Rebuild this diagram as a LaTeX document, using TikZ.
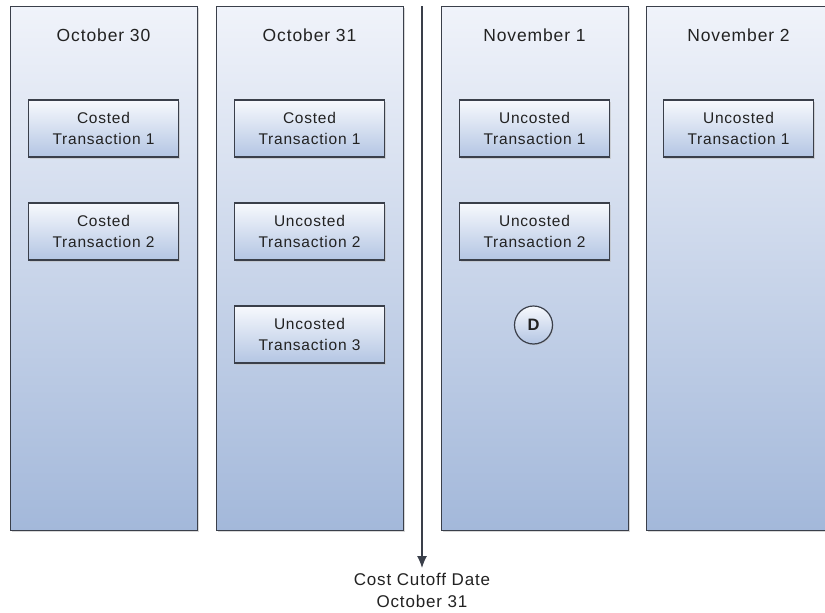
\documentclass[tikz,border=0pt]{standalone}
\usepackage{fontspec}
\setmainfont{Liberation Sans}[LetterSpace=5]
\usetikzlibrary{shadows,arrows.meta}
\definecolor{txt}{HTML}{222222}
\definecolor{coltop}{HTML}{F0F3FA}
\definecolor{colbot}{HTML}{A3B8DA}
\definecolor{boxtop}{HTML}{F7F9FD}
\definecolor{boxbot}{HTML}{B3C5E3}
\definecolor{edge}{HTML}{3A3F4A}
\tikzset{
  daycol/.style={draw=edge, line width=1.2pt, top color=coltop, bottom color=colbot,
     minimum width=187pt, minimum height=524pt, inner sep=0pt, anchor=north west,
     drop shadow={shadow xshift=1.5pt, shadow yshift=-1.5pt, fill=black!25, opacity=0.6}},
  txbox/.style={draw=edge, line width=1.2pt, top color=boxtop, bottom color=boxbot,
     minimum width=150pt, minimum height=57pt, align=center, inner sep=0pt,
     font=\fontsize{15.5pt}{20.7pt}\selectfont, text=txt,
     drop shadow={shadow xshift=1.5pt, shadow yshift=-1.5pt, fill=black!25, opacity=0.6}},
  title/.style={font=\fontsize{17.5pt}{20pt}\selectfont, text=txt, anchor=base, inner sep=0pt},
  dcirc/.style={circle, draw=edge, line width=1.2pt, top color=boxtop, bottom color=boxbot,
     minimum size=38pt, inner sep=0pt, font=\bfseries\fontsize{16.5pt}{17pt}\selectfont, text=txt,
     drop shadow={shadow xshift=1pt, shadow yshift=-1pt, fill=black!25, opacity=0.6}},
  lbl/.style={font=\fontsize{17pt}{22pt}\selectfont, text=txt, align=center, inner sep=0pt},
}
\begin{document}
\begin{tikzpicture}[x=1pt,y=-1pt]
\useasboundingbox (0,0) rectangle (825,613);
\clip (0,0) rectangle (825,613);
\fill[white] (0,0) rectangle (825,613);
% columns
\node[daycol] (c1) at (10,6) {};
\node[daycol] (c2) at (216,6) {};
\node[daycol] (c3) at (441,6) {};
\node[daycol] (c4) at (646,6) {};
% titles
\node[title] (t1) at (103.5,41) {October 30};
\node[title] (t2) at (309.5,41) {October 31};
\node[title] (t3) at (534.5,41) {November 1};
\node[title] (t4) at (738.5,41) {November 2};
% boxes
\node[txbox] (a1) at (103.5,128.5) {Costed\\Transaction 1};
\node[txbox] (a2) at (103.5,231.5) {Costed\\Transaction 2};
\node[txbox] (b1) at (309.5,128.5) {Costed\\Transaction 1};
\node[txbox] (b2) at (309.5,231.5) {Uncosted\\Transaction 2};
\node[txbox] (b3) at (309.5,334.5) {Uncosted\\Transaction 3};
\node[txbox] (d1) at (534.5,128.5) {Uncosted\\Transaction 1};
\node[txbox] (d2) at (534.5,231.5) {Uncosted\\Transaction 2};
\node[txbox] (e1) at (738.5,128.5) {Uncosted\\Transaction 1};
\node[dcirc] (dd) at (533.5,325) {D};
% cutoff arrow
\coordinate (top) at (422,6);
\node[lbl, anchor=north] (cut) at (422,573) {Cost Cutoff Date\\October 31};
\draw[line width=1.2pt, draw=edge, shorten >=5pt, -{Latex[length=12pt,width=10pt]}] (top) -- (cut.north);
\end{tikzpicture}
\end{document}
